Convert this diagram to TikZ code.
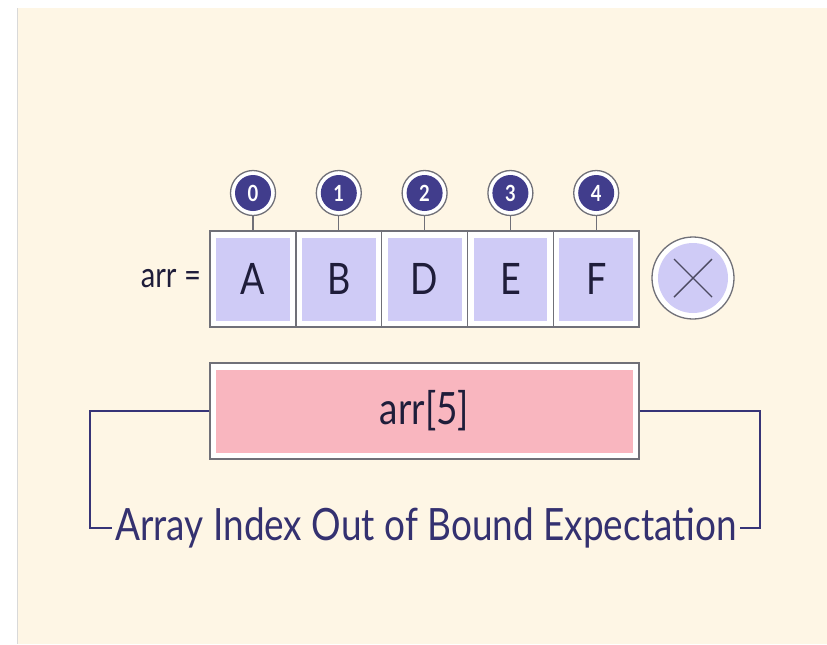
\documentclass[tikz,border=0pt]{standalone}
\usepackage{fontspec}
\setmainfont{Lato}[FakeStretch=0.83]
\usetikzlibrary{positioning}

% one unit = one pixel of the sketch
\newlength\unitpx
\setlength\unitpx{0.03cm}

\definecolor{paper}{HTML}{FEF6E5}
\definecolor{lilac}{HTML}{CFCBF6}
\definecolor{rose}{HTML}{F9B6BF}
\definecolor{indigo}{HTML}{413D8C}
\definecolor{ink}{HTML}{1F1D3A}
\definecolor{rim}{HTML}{707078}

\tikzset{
  cell/.style={draw=rim, line width=1.3\unitpx, fill=white, outer sep=0pt, inner sep=0pt,
    minimum width=85.8\unitpx, minimum height=96\unitpx, text=ink,
    font=\fontsize{37}{40}\selectfont,
    path picture={\fill[lilac] ([shift={(6\unitpx,-7\unitpx)}]path picture bounding box.north west)
      rectangle ([shift={(-6\unitpx,6\unitpx)}]path picture bounding box.south east);}},
  idx/.style={circle, draw=rim, line width=1.3\unitpx, fill=white, inner sep=0pt,
    minimum size=45\unitpx, text=white, font=\bfseries\fontsize{19}{20}\selectfont,
    path picture={\fill[indigo] (path picture bounding box.center) circle (18\unitpx);}},
  stopmark/.style={circle, draw=rim, line width=1.3\unitpx, fill=white, inner sep=0pt,
    minimum size=82\unitpx,
    path picture={\fill[lilac] (path picture bounding box.center) circle (35\unitpx);}},
  slot/.style={draw=rim, line width=1.3\unitpx, fill=white, inner sep=0pt,
    minimum width=429\unitpx, minimum height=96\unitpx, text=ink,
    font=\fontsize{38}{40}\selectfont,
    path picture={\fill[rose] ([shift={(6\unitpx,-7\unitpx)}]path picture bounding box.north west)
      rectangle ([shift={(-6\unitpx,6\unitpx)}]path picture bounding box.south east);}},
  stem/.style={draw=rim, line width=1.3\unitpx},
  bracket/.style={draw=indigo!85!black, line width=1.5\unitpx},
}

\begin{document}
\begin{tikzpicture}[x=\unitpx, y=-\unitpx]
  % page and paper
  \fill[white] (0,0) rectangle (827,644);
  \fill[paper] (17,8) rectangle (827,644);
  \draw[black!15, line width=1\unitpx] (17,8) -- (17,644);
  \useasboundingbox (0,0) rectangle (827,644);

  % the array cells with their indices
  \foreach \ch [count=\i from 0] in {A,B,D,E,F}{
    \node[cell] (c\i) at ({253+85.8*\i},279) {\ch};
    \node[idx] (n\i) at ({253+85.8*\i},193) {\i};
    \draw[stem] (n\i) -- (c\i);
  }
  \node[left=5\unitpx of c0, text=ink, font=\fontsize{30}{32}\selectfont] (lhs) {arr =};

  % no sixth cell
  \node[stopmark] (err) at (693,278) {};
  \draw[draw=ink!80, line width=1.4\unitpx]
    ([shift={(-19\unitpx,19\unitpx)}]err.center) -- ([shift={(19\unitpx,-19\unitpx)}]err.center)
    ([shift={(-19\unitpx,-19\unitpx)}]err.center) -- ([shift={(19\unitpx,19\unitpx)}]err.center);

  % the bad access and its message
  \node[slot] (slot) at (424.5,411) {arr[5]};
  \node[text=indigo!80!black, font=\fontsize{38}{40}\selectfont, inner sep=3\unitpx]
    (msg) at (426,528) {Array Index Out of Bound Expectation};
  \draw[bracket] (slot.west) -- (90,411) |- (msg.west);
  \draw[bracket] (slot.east) -- (760,411) |- (msg.east);
\end{tikzpicture}
\end{document}
